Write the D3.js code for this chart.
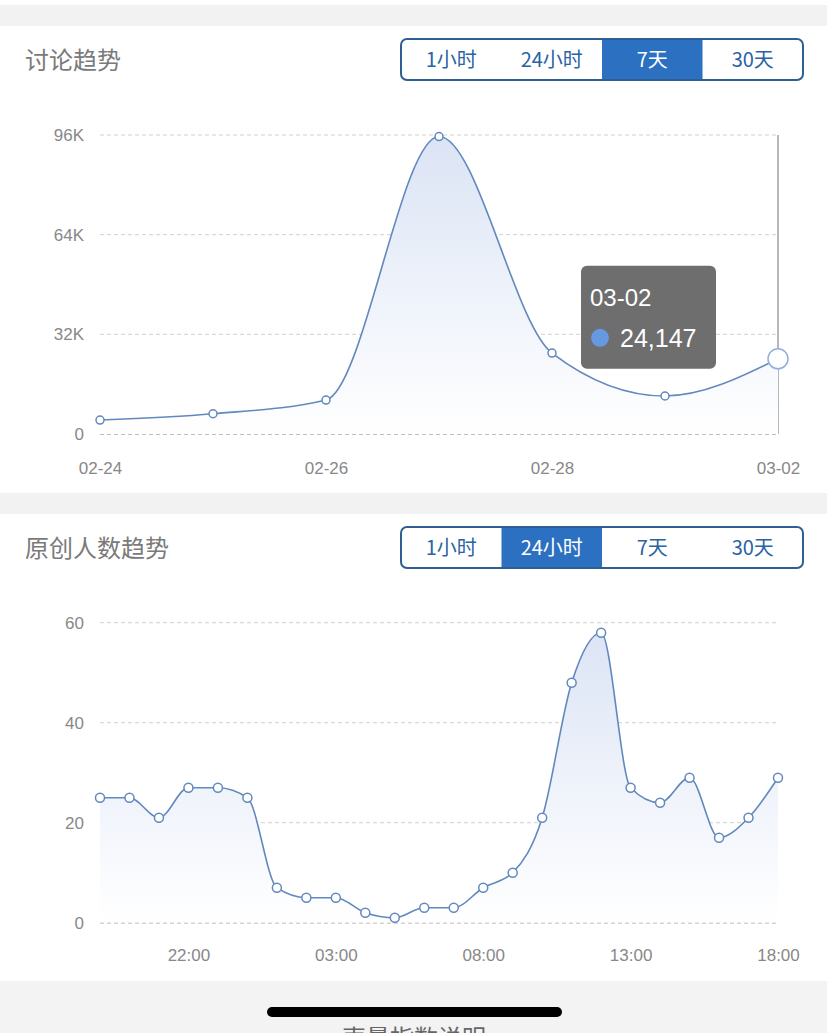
<!DOCTYPE html>
<html>
<head>
<meta charset="utf-8">
<script src="https://cdn.jsdelivr.net/npm/d3@7"></script>
<style>
  body { margin: 0; background: #fff; }
  svg { display: block; font-family: "Liberation Sans", "Noto Sans CJK SC", sans-serif; }
</style>
</head>
<body>
<script>
// chart 1: 讨论趋势 (7天)
const dates = ["02-24", "02-25", "02-26", "02-27", "02-28", "03-01", "03-02"];
const discussValues = [4480, 6500, 10900, 95500, 26000, 12200, 24147];
const discussTicks = [0, 32000, 64000, 96000];
const discussTickLabels = ["0", "32K", "64K", "96K"];
const discussXLabels = ["02-24", "02-26", "02-28", "03-02"];

// chart 2: 原创人数趋势 (24小时)
const hours = ["19:00", "20:00", "21:00", "22:00", "23:00", "00:00", "01:00", "02:00",
  "03:00", "04:00", "05:00", "06:00", "07:00", "08:00", "09:00", "10:00",
  "11:00", "12:00", "13:00", "14:00", "15:00", "16:00", "17:00", "18:00"];
const authorValues = [25, 25, 21, 27, 27, 25, 7, 5, 5, 2, 1, 3, 3, 7, 10, 21, 48, 58, 27, 24, 29, 17, 21, 29];
const authorTicks = [0, 20, 40, 60];
const authorXLabels = ["22:00", "03:00", "08:00", "13:00", "18:00"];

const buttonLabels = ["1小时", "24小时", "7天", "30天"];

const W = 827, H = 1033;
const svg = d3.select("body").append("svg")
    .attr("width", W)
    .attr("height", H);

// page background and separators
svg.append("rect").attr("width", W).attr("height", H).attr("fill", "#fff");
svg.append("rect").attr("x", 0).attr("y", 5).attr("width", W).attr("height", 21).attr("fill", "#f2f2f2");
svg.append("rect").attr("x", 0).attr("y", 493).attr("width", W).attr("height", 21).attr("fill", "#f2f2f2");
svg.append("rect").attr("x", 0).attr("y", 981).attr("width", W).attr("height", 52).attr("fill", "#f3f3f3");

const defs = svg.append("defs");

function drawPanel(opt) {
    const g = svg.append("g");

    // title
    g.append("text")
        .attr("x", 25)
        .attr("y", opt.titleY)
        .attr("font-size", "24px")
        .attr("fill", "#7a7a7a")
        .attr("font-family", "'Noto Sans CJK SC', sans-serif")
        .text(opt.title);

    // button group
    const bx = d3.scaleBand().domain(buttonLabels).range([401, 803]);
    const btn = g.append("g");
    btn.append("clipPath").attr("id", "clip" + opt.id)
        .append("rect")
        .attr("x", 401).attr("y", opt.btnY)
        .attr("width", 402).attr("height", 41).attr("rx", 6);
    btn.append("rect")
        .attr("x", bx(opt.selected))
        .attr("y", opt.btnY)
        .attr("width", bx.bandwidth())
        .attr("height", 41)
        .attr("clip-path", "url(#clip" + opt.id + ")")
        .attr("fill", "#2b70c1");
    btn.append("rect")
        .attr("x", 401).attr("y", opt.btnY)
        .attr("width", 402).attr("height", 41).attr("rx", 6)
        .attr("fill", "none")
        .attr("stroke", "#2d5f93")
        .attr("stroke-width", 2);
    btn.selectAll("text.btn")
        .data(buttonLabels)
        .enter().append("text")
        .attr("class", "btn")
        .attr("x", d => bx(d) + bx.bandwidth() / 2)
        .attr("y", opt.btnY + 21)
        .attr("dy", "0.35em")
        .attr("text-anchor", "middle")
        .attr("font-size", "20px")
        .attr("font-family", "'Noto Sans CJK SC', sans-serif")
        .attr("fill", d => d === opt.selected ? "#fff" : "#2a63a3")
        .text(d => d);

    // scales
    const x = d3.scalePoint().domain(opt.cats).range([100, 778]);
    const y = d3.scaleLinear().domain(opt.yDomain).range(opt.yRange);

    // grid
    g.selectAll("line.grid")
        .data(opt.yTicks)
        .enter().append("line")
        .attr("class", "grid")
        .attr("x1", 100).attr("x2", 778)
        .attr("y1", d => y(d)).attr("y2", d => y(d))
        .attr("stroke", d => d === 0 ? "#a8a8a8" : "#d0d0d0")
        .attr("stroke-width", d => d === 0 ? 1.5 : 1)
        .attr("stroke-dasharray", "4,3");

    // y axis labels
    const yAxis = g.append("g")
        .attr("transform", "translate(84,0)")
        .call(d3.axisLeft(y).tickValues(opt.yTicks).tickSize(0).tickPadding(0)
            .tickFormat((d, i) => opt.yLabels[i]));
    yAxis.select(".domain").remove();
    yAxis.selectAll("text")
        .attr("font-size", "17px")
        .attr("fill", "#888")
        .attr("font-family", "'Liberation Sans', sans-serif");

    // x axis labels
    const xAxis = g.append("g")
        .attr("transform", "translate(0," + opt.xLabelY + ")")
        .call(d3.axisBottom(x).tickValues(opt.xLabels).tickSize(0).tickPadding(0));
    xAxis.select(".domain").remove();
    xAxis.selectAll("text")
        .attr("font-size", "17px")
        .attr("fill", "#888")
        .attr("font-family", "'Liberation Sans', sans-serif");

    // gradient area
    const grad = defs.append("linearGradient")
        .attr("id", "grad" + opt.id)
        .attr("gradientUnits", "userSpaceOnUse")
        .attr("x1", 0).attr("x2", 0)
        .attr("y1", opt.yRange[1]).attr("y2", opt.yRange[0]);
    grad.append("stop").attr("offset", "0%").attr("stop-color", "#dbe4f5");
    grad.append("stop").attr("offset", "100%").attr("stop-color", "#ffffff");

    const pts = opt.cats.map((c, i) => [x(c), y(opt.values[i])]);

    g.append("path")
        .datum(pts)
        .attr("fill", "url(#grad" + opt.id + ")")
        .attr("d", d3.area().x(d => d[0]).y0(y(0)).y1(d => d[1]).curve(d3.curveMonotoneX));

    g.append("path")
        .datum(pts)
        .attr("fill", "none")
        .attr("stroke", "#6289bd")
        .attr("stroke-width", 1.6)
        .attr("d", d3.line().x(d => d[0]).y(d => d[1]).curve(d3.curveMonotoneX));

    return { g, x, y, pts };
}

const p1 = drawPanel({
    id: 1, title: "讨论趋势", titleY: 69, btnY: 39, selected: "7天",
    cats: dates, values: discussValues,
    yDomain: [0, 96000], yRange: [434, 135],
    yTicks: discussTicks, yLabels: discussTickLabels,
    xLabels: discussXLabels, xLabelY: 462
});

// tooltip crosshair
const last = p1.pts[p1.pts.length - 1];
p1.g.insert("line", "path")
    .attr("x1", last[0]).attr("x2", last[0])
    .attr("y1", p1.y(96000)).attr("y2", p1.y(0))
    .attr("stroke", "#a0a0a0")
    .attr("stroke-width", 1.5);

p1.g.selectAll("circle.pt")
    .data(p1.pts.slice(0, -1))
    .enter().append("circle")
    .attr("class", "pt")
    .attr("cx", d => d[0]).attr("cy", d => d[1])
    .attr("r", 4)
    .attr("fill", "#fff")
    .attr("stroke", "#6289bd")
    .attr("stroke-width", 1.5);

p1.g.append("circle")
    .attr("cx", last[0]).attr("cy", last[1])
    .attr("r", 10)
    .attr("fill", "#fff")
    .attr("stroke", "#8fb2dc")
    .attr("stroke-width", 1.5);

// tooltip box
const tip = p1.g.append("g")
    .attr("transform", "translate(" + (last[0] - 197) + "," + (last[1] - 93) + ")");
tip.append("rect")
    .attr("width", 135).attr("height", 103).attr("rx", 6)
    .attr("fill", "#6e6e6e");
tip.append("text")
    .attr("x", 9).attr("y", 40)
    .attr("font-size", "24px")
    .attr("fill", "#fff")
    .attr("font-family", "'Liberation Sans', sans-serif")
    .text(dates[dates.length - 1]);
tip.append("circle")
    .attr("cx", 19).attr("cy", 72).attr("r", 9)
    .attr("fill", "#6699e0");
tip.append("text")
    .attr("x", 39).attr("y", 81)
    .attr("font-size", "25px")
    .attr("fill", "#fff")
    .attr("font-family", "'Liberation Sans', sans-serif")
    .text(d3.format(",")(discussValues[discussValues.length - 1]));

const p2 = drawPanel({
    id: 2, title: "原创人数趋势", titleY: 557, btnY: 527, selected: "24小时",
    cats: hours, values: authorValues,
    yDomain: [0, 60], yRange: [922.7, 622.7],
    yTicks: authorTicks, yLabels: authorTicks.map(String),
    xLabels: authorXLabels, xLabelY: 949
});

p2.g.selectAll("circle.pt")
    .data(p2.pts)
    .enter().append("circle")
    .attr("class", "pt")
    .attr("cx", d => d[0]).attr("cy", d => d[1])
    .attr("r", 4.5)
    .attr("fill", "#fff")
    .attr("stroke", "#6289bd")
    .attr("stroke-width", 1.5);

// bottom: home indicator and cut-off link text
svg.append("rect")
    .attr("x", 267).attr("y", 1007)
    .attr("width", 295).attr("height", 10).attr("rx", 5)
    .attr("fill", "#000");
svg.append("text")
    .attr("x", 414).attr("y", 1047)
    .attr("text-anchor", "middle")
    .attr("font-size", "24px")
    .attr("fill", "#666")
    .attr("font-family", "'Noto Sans CJK SC', sans-serif")
    .text("声量指数说明");
</script>
</body>
</html>
